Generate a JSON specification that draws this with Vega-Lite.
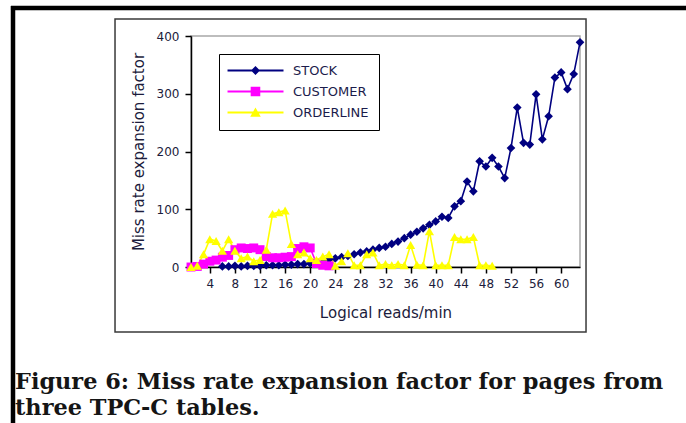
{
  "$schema": "https://vega.github.io/schema/vega-lite/v6.json",
  "width": 389,
  "height": 231,
  "autosize": {"type": "none"},
  "padding": {"left": 191, "top": 36, "right": 106, "bottom": 156},
  "background": "white",
  "config": {
    "view": {"stroke": "#a8a8a8", "strokeWidth": 1.5},
    "font": "DejaVu Sans",
    "axis": {"labelOverlap": false, "labelSeparation": 0, "labelFlush": false}
  },
  "datasets": {
    "series": [
      {"s": "STOCK", "x": 6, "v": 1}, {"s": "STOCK", "x": 7, "v": 1}, {"s": "STOCK", "x": 8, "v": 2}, {"s": "STOCK", "x": 9, "v": 1},
      {"s": "STOCK", "x": 10, "v": 2}, {"s": "STOCK", "x": 11, "v": 2}, {"s": "STOCK", "x": 12, "v": 2}, {"s": "STOCK", "x": 13, "v": 3},
      {"s": "STOCK", "x": 14, "v": 3}, {"s": "STOCK", "x": 15, "v": 3}, {"s": "STOCK", "x": 16, "v": 4}, {"s": "STOCK", "x": 17, "v": 4},
      {"s": "STOCK", "x": 18, "v": 5}, {"s": "STOCK", "x": 19, "v": 5}, {"s": "STOCK", "x": 20, "v": 6}, {"s": "STOCK", "x": 21, "v": 8},
      {"s": "STOCK", "x": 22, "v": 10}, {"s": "STOCK", "x": 23, "v": 13}, {"s": "STOCK", "x": 24, "v": 15}, {"s": "STOCK", "x": 25, "v": 17},
      {"s": "STOCK", "x": 26, "v": 19}, {"s": "STOCK", "x": 27, "v": 22}, {"s": "STOCK", "x": 28, "v": 25}, {"s": "STOCK", "x": 29, "v": 27},
      {"s": "STOCK", "x": 30, "v": 30}, {"s": "STOCK", "x": 31, "v": 33}, {"s": "STOCK", "x": 32, "v": 35}, {"s": "STOCK", "x": 33, "v": 40},
      {"s": "STOCK", "x": 34, "v": 44}, {"s": "STOCK", "x": 35, "v": 50}, {"s": "STOCK", "x": 36, "v": 56}, {"s": "STOCK", "x": 37, "v": 61},
      {"s": "STOCK", "x": 38, "v": 67}, {"s": "STOCK", "x": 39, "v": 73}, {"s": "STOCK", "x": 40, "v": 79}, {"s": "STOCK", "x": 41, "v": 87},
      {"s": "STOCK", "x": 42, "v": 85}, {"s": "STOCK", "x": 43, "v": 105}, {"s": "STOCK", "x": 44, "v": 114}, {"s": "STOCK", "x": 45, "v": 148},
      {"s": "STOCK", "x": 46, "v": 131}, {"s": "STOCK", "x": 47, "v": 183}, {"s": "STOCK", "x": 48, "v": 174}, {"s": "STOCK", "x": 49, "v": 189},
      {"s": "STOCK", "x": 50, "v": 174}, {"s": "STOCK", "x": 51, "v": 154}, {"s": "STOCK", "x": 52, "v": 206}, {"s": "STOCK", "x": 53, "v": 276},
      {"s": "STOCK", "x": 54, "v": 215}, {"s": "STOCK", "x": 55, "v": 212}, {"s": "STOCK", "x": 56, "v": 299}, {"s": "STOCK", "x": 57, "v": 221},
      {"s": "STOCK", "x": 58, "v": 261}, {"s": "STOCK", "x": 59, "v": 328}, {"s": "STOCK", "x": 60, "v": 337}, {"s": "STOCK", "x": 61, "v": 308},
      {"s": "STOCK", "x": 62, "v": 334}, {"s": "STOCK", "x": 63, "v": 389},
      {"s": "CUSTOMER", "x": 1, "v": 0}, {"s": "CUSTOMER", "x": 2, "v": 1}, {"s": "CUSTOMER", "x": 3, "v": 5}, {"s": "CUSTOMER", "x": 4, "v": 10},
      {"s": "CUSTOMER", "x": 5, "v": 12}, {"s": "CUSTOMER", "x": 6, "v": 17}, {"s": "CUSTOMER", "x": 7, "v": 20}, {"s": "CUSTOMER", "x": 8, "v": 30},
      {"s": "CUSTOMER", "x": 9, "v": 33}, {"s": "CUSTOMER", "x": 10, "v": 32}, {"s": "CUSTOMER", "x": 11, "v": 33}, {"s": "CUSTOMER", "x": 12, "v": 30},
      {"s": "CUSTOMER", "x": 13, "v": 18}, {"s": "CUSTOMER", "x": 14, "v": 16}, {"s": "CUSTOMER", "x": 15, "v": 16}, {"s": "CUSTOMER", "x": 16, "v": 17},
      {"s": "CUSTOMER", "x": 17, "v": 18}, {"s": "CUSTOMER", "x": 18, "v": 32}, {"s": "CUSTOMER", "x": 19, "v": 35}, {"s": "CUSTOMER", "x": 20, "v": 33},
      {"s": "CUSTOMER", "x": 21, "v": 6}, {"s": "CUSTOMER", "x": 22, "v": 3}, {"s": "CUSTOMER", "x": 23, "v": 2},
      {"s": "ORDERLINE", "x": 1, "v": 0}, {"s": "ORDERLINE", "x": 2, "v": 2}, {"s": "ORDERLINE", "x": 3, "v": 22}, {"s": "ORDERLINE", "x": 4, "v": 48},
      {"s": "ORDERLINE", "x": 5, "v": 45}, {"s": "ORDERLINE", "x": 6, "v": 28}, {"s": "ORDERLINE", "x": 7, "v": 48}, {"s": "ORDERLINE", "x": 8, "v": 28},
      {"s": "ORDERLINE", "x": 9, "v": 15}, {"s": "ORDERLINE", "x": 10, "v": 18}, {"s": "ORDERLINE", "x": 11, "v": 10}, {"s": "ORDERLINE", "x": 12, "v": 12},
      {"s": "ORDERLINE", "x": 13, "v": 30}, {"s": "ORDERLINE", "x": 14, "v": 92}, {"s": "ORDERLINE", "x": 15, "v": 95}, {"s": "ORDERLINE", "x": 16, "v": 98},
      {"s": "ORDERLINE", "x": 17, "v": 40}, {"s": "ORDERLINE", "x": 18, "v": 22}, {"s": "ORDERLINE", "x": 19, "v": 25}, {"s": "ORDERLINE", "x": 20, "v": 15},
      {"s": "ORDERLINE", "x": 21, "v": 12}, {"s": "ORDERLINE", "x": 22, "v": 18}, {"s": "ORDERLINE", "x": 23, "v": 22}, {"s": "ORDERLINE", "x": 24, "v": 2},
      {"s": "ORDERLINE", "x": 25, "v": 10}, {"s": "ORDERLINE", "x": 26, "v": 24}, {"s": "ORDERLINE", "x": 27, "v": 3}, {"s": "ORDERLINE", "x": 28, "v": 3},
      {"s": "ORDERLINE", "x": 29, "v": 22}, {"s": "ORDERLINE", "x": 30, "v": 25}, {"s": "ORDERLINE", "x": 31, "v": 3}, {"s": "ORDERLINE", "x": 32, "v": 5},
      {"s": "ORDERLINE", "x": 33, "v": 3}, {"s": "ORDERLINE", "x": 34, "v": 5}, {"s": "ORDERLINE", "x": 35, "v": 3}, {"s": "ORDERLINE", "x": 36, "v": 38},
      {"s": "ORDERLINE", "x": 37, "v": 4}, {"s": "ORDERLINE", "x": 38, "v": 3}, {"s": "ORDERLINE", "x": 39, "v": 62}, {"s": "ORDERLINE", "x": 40, "v": 3},
      {"s": "ORDERLINE", "x": 41, "v": 3}, {"s": "ORDERLINE", "x": 42, "v": 3}, {"s": "ORDERLINE", "x": 43, "v": 52}, {"s": "ORDERLINE", "x": 44, "v": 48},
      {"s": "ORDERLINE", "x": 45, "v": 48}, {"s": "ORDERLINE", "x": 46, "v": 52}, {"s": "ORDERLINE", "x": 47, "v": 3}, {"s": "ORDERLINE", "x": 48, "v": 3},
      {"s": "ORDERLINE", "x": 49, "v": 2}
    ]
  },
  "layer": [
    {
      "data": {"values": [{}]},
      "mark": {"type": "rect", "fillOpacity": 0, "stroke": "#3a3a3a", "strokeWidth": 1.5},
      "encoding": {
        "x": {"datum": -11.11, "type": "quantitative"},
        "x2": {"datum": 63.96},
        "y": {"datum": 429.4, "type": "quantitative"},
        "y2": {"datum": -112.6}
      }
    },
    {
      "data": {"values": [{}]},
      "mark": {"type": "rule", "color": "#000000", "strokeWidth": 4.5, "strokeCap": "butt"},
      "encoding": {
        "x": {"datum": -27.7, "type": "quantitative"},
        "x2": {"datum": 90},
        "y": {"datum": 448.5, "type": "quantitative"}
      }
    },
    {
      "data": {"values": [{}]},
      "mark": {"type": "rule", "color": "#000000", "strokeWidth": 4.5, "strokeCap": "butt"},
      "encoding": {
        "x": {"datum": -27.37, "type": "quantitative"},
        "y": {"datum": 452, "type": "quantitative"},
        "y2": {"datum": -300}
      }
    },
    {
      "data": {"values": [{}]},
      "mark": {"type": "text", "align": "left", "baseline": "alphabetic", "font": "DejaVu Serif", "fontSize": 22.4, "fontWeight": "bold", "color": "#151515"},
      "encoding": {
        "x": {"datum": -27.05, "type": "quantitative"},
        "y": {"datum": -212.1, "type": "quantitative"},
        "text": {"value": "Figure 6: Miss rate expansion factor for pages from"}
      }
    },
    {
      "data": {"values": [{}]},
      "mark": {"type": "text", "align": "left", "baseline": "alphabetic", "font": "DejaVu Serif", "fontSize": 22.4, "fontWeight": "bold", "color": "#151515"},
      "encoding": {
        "x": {"datum": -27.05, "type": "quantitative"},
        "y": {"datum": -256.3, "type": "quantitative"},
        "text": {"value": "three TPC-C tables."}
      }
    },
    {
      "data": {"name": "series"},
      "mark": {"type": "line", "strokeWidth": 1.6},
      "encoding": {
        "x": {
          "field": "x", "type": "quantitative",
          "scale": {"domain": [1, 63], "nice": false, "zero": false},
          "axis": {
            "title": "Logical reads/min", "values": [4, 8, 12, 16, 20, 24, 28, 32, 36, 40, 44, 48, 52, 56, 60], "tickCount": 30,
            "grid": false, "tickSize": 6, "tickWidth": 1.5, "tickColor": "#000", "domainColor": "#000", "domainWidth": 1.5,
            "labelFont": "DejaVu Sans", "labelFontSize": 12, "labelColor": "#1c1c3c", "labelPadding": 5, "labelFlush": false, "labelOverlap": false,
            "titleFont": "DejaVu Sans", "titleFontSize": 15, "titleFontWeight": "normal", "titleColor": "#1c1c3c", "titlePadding": 16
          }
        },
        "y": {
          "field": "v", "type": "quantitative",
          "scale": {"domain": [0, 400], "nice": false},
          "axis": {
            "title": "Miss rate expansion factor", "values": [0, 100, 200, 300, 400], "tickCount": 10,
            "grid": false, "tickSize": 6, "tickWidth": 1.5, "tickColor": "#000", "domainColor": "#000", "domainWidth": 1.5,
            "labelFont": "DejaVu Sans", "labelFontSize": 12, "labelColor": "#1c1c3c", "labelPadding": 6, "labelFlush": false, "labelOverlap": false,
            "titleFont": "DejaVu Sans", "titleFontSize": 15, "titleFontWeight": "normal", "titleColor": "#1c1c3c", "titlePadding": 10
          }
        },
        "color": {
          "field": "s", "type": "nominal",
          "scale": {"domain": ["STOCK", "CUSTOMER", "ORDERLINE"], "range": ["#000080", "#ff00ff", "#ffff00"]},
          "legend": {
            "title": null, "orient": "none", "legendX": 28, "legendY": 18,
            "padding": 10, "rowPadding": 7, "strokeColor": "#000000",
            "symbolSize": 144, "symbolStrokeWidth": 0, "labelOffset": 51,
            "labelFont": "DejaVu Sans", "labelFontSize": 13, "labelColor": "#1c1c4c"
          }
        },
        "order": {"field": "x", "type": "quantitative"}
      }
    },
    {
      "data": {"name": "series"},
      "transform": [{"filter": "datum.x > 1000"}],
      "mark": {"type": "point", "filled": true, "opacity": 1},
      "encoding": {
        "x": {"field": "x", "type": "quantitative"},
        "y": {"field": "v", "type": "quantitative"},
        "color": {"field": "s", "type": "nominal"},
        "shape": {
          "field": "s", "type": "nominal",
          "scale": {
            "domain": ["STOCK", "CUSTOMER", "ORDERLINE"],
            "range": [
              "M-1.33,-0.17H8V0.17H-1.33Z M2.58,0L3.33,-0.75L4.08,0L3.33,0.75Z",
              "M-1.33,-0.17H8V0.17H-1.33Z M2.53,-0.8H4.13V0.8H2.53Z",
              "M-1.33,-0.17H8V0.17H-1.33Z M3.33,-0.85L4.21,0.7H2.45Z"
            ]
          },
          "legend": {"title": null}
        }
      }
    },
    {
      "data": {"name": "series"},
      "transform": [{"filter": "datum.s === 'STOCK'"}],
      "mark": {"type": "point", "filled": true, "opacity": 1, "shape": "diamond", "size": 75},
      "encoding": {
        "x": {"field": "x", "type": "quantitative"},
        "y": {"field": "v", "type": "quantitative"},
        "color": {"field": "s", "type": "nominal"}
      }
    },
    {
      "data": {"name": "series"},
      "transform": [{"filter": "datum.s === 'CUSTOMER'"}],
      "mark": {"type": "point", "filled": true, "opacity": 1, "shape": "square", "size": 80},
      "encoding": {
        "x": {"field": "x", "type": "quantitative"},
        "y": {"field": "v", "type": "quantitative"},
        "color": {"field": "s", "type": "nominal"}
      }
    },
    {
      "data": {"name": "series"},
      "transform": [{"filter": "datum.s === 'ORDERLINE'"}],
      "mark": {"type": "point", "filled": true, "opacity": 1, "shape": "triangle-up", "size": 85},
      "encoding": {
        "x": {"field": "x", "type": "quantitative"},
        "y": {"field": "v", "type": "quantitative"},
        "color": {"field": "s", "type": "nominal"}
      }
    }
  ]
}
